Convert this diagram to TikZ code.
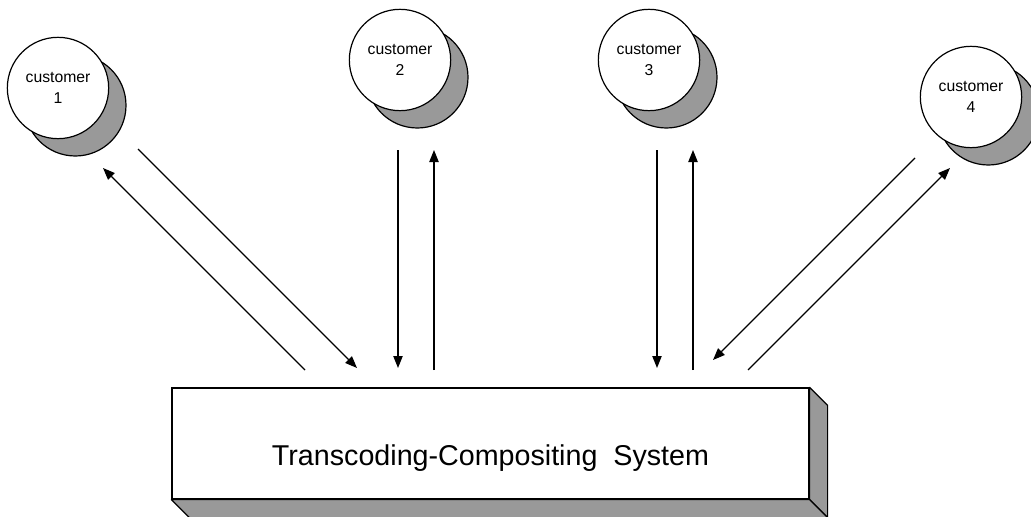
\documentclass[tikz,border=0pt]{standalone}
\usepackage{fontspec}
\setmainfont{Liberation Sans}
\usetikzlibrary{arrows.meta,positioning,calc,shadows}
\definecolor{CSgray}{RGB}{153,153,153}
\tikzset{
  cust/.style={circle,draw=black,line width=0.9pt,fill=white,minimum size=76pt,
               inner sep=0pt,align=center,font=\fontsize{11.8}{15.5}\selectfont,
               general shadow={shadow xshift=13pt,shadow yshift=-13pt,
                               fill=CSgray,draw=black,line width=0.9pt}},
  sysbox/.style={rectangle,draw=black,line width=0.9pt,fill=white,
                 minimum width=477.75pt,minimum height=83.25pt,inner sep=0pt},
  syslabel/.style={font=\fontsize{21.5}{24}\selectfont,inner sep=0pt},
  side/.style={draw=black,line width=0.9pt,fill=CSgray,line join=round},
  fl/.style={-{Triangle[length=9pt,width=7pt]},line width=0.9pt}
}
\begin{document}
\begin{tikzpicture}[x=0.75pt,y=-0.75pt]
  \useasboundingbox (0,0) rectangle (1031,517);
  % customers
  \node[cust] (c1) at (58,88) {customer\\1};
  \node[cust] (c2) at (400,60) {customer\\2};
  \node[cust] (c3) at (649,60) {customer\\3};
  \node[cust] (c4) at (971,97) {customer\\4};
  % system block with its depth faces
  \node[sysbox] (tcs) at (490.5,443.5) {};
  \node[syslabel] (tcsl) at ($(tcs.center)+(0,15)$) {Transcoding-Compositing\ \ System};
  \draw[side] (tcs.north east) -- ++(18,18) -- ($(tcs.south east)+(18,18)$)
              -- (tcs.south east) -- cycle;
  \draw[side] (tcs.south west) -- ++(18,18) -- ($(tcs.south east)+(18,18)$)
              -- (tcs.south east) -- cycle;
  % line ends
  \coordinate (c1o) at (138,149); \coordinate (c1oe) at (357,368);
  \coordinate (c1i) at (305,370); \coordinate (c1ie) at (103,168);
  \coordinate (c2o) at (398,150); \coordinate (c2oe) at (398,368);
  \coordinate (c2i) at (434,370); \coordinate (c2ie) at (434,150);
  \coordinate (c3o) at (657,150); \coordinate (c3oe) at (657,368);
  \coordinate (c3i) at (693,370); \coordinate (c3ie) at (693,150);
  \coordinate (c4o) at (915,158); \coordinate (c4oe) at (713,360);
  \coordinate (c4i) at (748,370); \coordinate (c4ie) at (950,168);
  \draw[fl] (c1o)--(c1oe); \draw[fl] (c1i)--(c1ie);
  \draw[fl] (c2o)--(c2oe); \draw[fl] (c2i)--(c2ie);
  \draw[fl] (c3o)--(c3oe); \draw[fl] (c3i)--(c3ie);
  \draw[fl] (c4o)--(c4oe); \draw[fl] (c4i)--(c4ie);
\end{tikzpicture}
\end{document}
